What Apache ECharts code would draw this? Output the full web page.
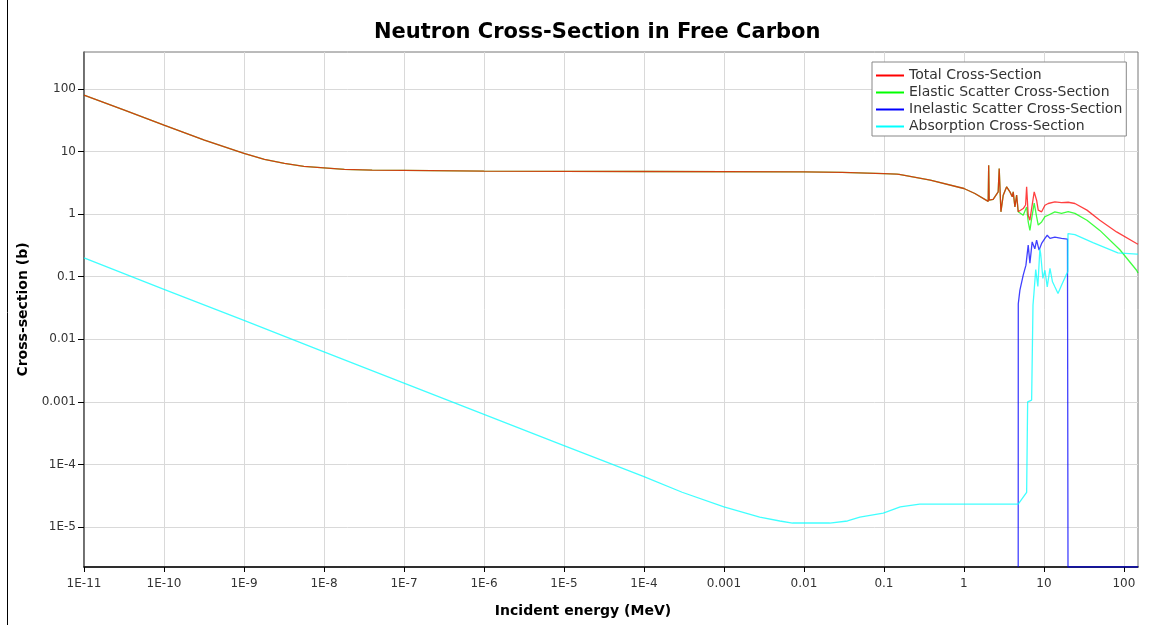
<!DOCTYPE html>
<html>
<head>
<meta charset="utf-8">
<title>Neutron Cross-Section in Free Carbon</title>
<script src="https://cdn.jsdelivr.net/npm/echarts@6/dist/echarts.min.js"></script>
<style>
  html, body { margin: 0; padding: 0; background: #fff; }
  #chart { width: 1156px; height: 625px; }
</style>
</head>
<body>
<div id="chart"></div>
<script>
// energies in MeV, cross-sections in barns
const X_MIN = 1e-11, X_MAX = 150;
const Y_MIN = 2.3e-6, Y_MAX = 390;

const xDecades = [1e-11, 1e-10, 1e-9, 1e-8, 1e-7, 1e-6, 1e-5, 1e-4, 1e-3, 0.01, 0.1, 1, 10, 100];
const yDecades = [1e-5, 1e-4, 1e-3, 0.01, 0.1, 1, 10, 100];

const seriesNames = [
  'Total Cross-Section',
  'Elastic Scatter Cross-Section',
  'Inelastic Scatter Cross-Section',
  'Absorption Cross-Section'
];
const seriesColors = ['#ff0000', '#00ff00', '#0000ff', '#00ffff'];

// below the inelastic threshold total and elastic lie on top of each other
const sharedLow = [
  [1e-11, 79.6], [3.2e-11, 46], [1e-10, 26.4], [3.2e-10, 15.2], [1e-9, 9.33],
  [1.8e-9, 7.53], [3.2e-9, 6.46], [5.6e-9, 5.82], [1e-8, 5.5], [1.8e-8, 5.2],
  [4e-8, 5.05], [1e-7, 5.0], [1e-6, 4.87], [1e-4, 4.8], [1e-2, 4.74],
  [0.03, 4.65], [0.1, 4.45], [0.145, 4.35], [0.15, 4.6], [0.155, 4.33],
  [0.38, 3.49], [1.0, 2.57], [1.37, 2.14], [2.01, 1.6], [2.04, 6.07],
  [2.07, 1.67], [2.32, 1.72], [2.68, 2.27], [2.76, 5.37], [2.9, 1.09],
  [3.1, 2.01], [3.42, 2.73], [3.76, 2.27], [4.02, 1.89], [4.13, 2.27],
  [4.34, 1.31], [4.56, 2.01], [4.77, 1.09]
];

const totalHigh = [
  [5.01, 1.16], [5.51, 1.23], [5.9, 1.4], [6.08, 2.73], [6.36, 0.96],
  [6.68, 0.8], [7.02, 1.23], [7.3, 1.3], [7.56, 2.27], [8.1, 1.67],
  [8.49, 1.16], [9.36, 1.09], [10.3, 1.39], [11.3, 1.48], [13.7, 1.57],
  [16.6, 1.53], [20.1, 1.55], [24.4, 1.48], [34.5, 1.16], [50, 0.8],
  [81, 0.52], [144, 0.34], [150, 0.33]
];

const elasticHigh = [
  [5.01, 1.09], [5.51, 0.96], [6.08, 1.3], [6.36, 0.75], [6.68, 0.55],
  [7.02, 0.85], [7.56, 1.5], [8.1, 0.91], [8.49, 0.67], [9.36, 0.75],
  [10.3, 0.91], [11.3, 0.96], [13.7, 1.09], [16.6, 1.03], [20.1, 1.1],
  [24.4, 1.03], [34.5, 0.8], [50, 0.55], [89, 0.27], [144, 0.127], [150, 0.115]
];

// 0 = no value in the library, drawn on the floor of the plot
const inelastic = [
  [4.77, 0], [4.78, 0.037], [5.01, 0.061], [5.51, 0.106], [5.96, 0.153],
  [6.36, 0.32], [6.68, 0.164], [7.13, 0.36], [7.7, 0.28], [8.1, 0.385],
  [8.7, 0.266], [9.36, 0.34], [10.3, 0.41], [11.0, 0.46], [11.9, 0.41],
  [13.7, 0.43], [16.6, 0.41], [19.7, 0.4], [20.0, 0], [150, 0]
];

const absorption = [
  [1e-11, 0.2], [1e-10, 0.063], [1e-9, 0.02], [1e-8, 0.0063], [1e-7, 0.002],
  [1e-6, 6.3e-4], [1e-5, 2.0e-4], [3e-5, 1.16e-4], [1e-4, 6.4e-5], [3e-4, 3.6e-5],
  [1e-3, 2.1e-5], [2.8e-3, 1.44e-5], [5e-3, 1.25e-5], [7.2e-3, 1.16e-5],
  [0.021, 1.16e-5], [0.035, 1.25e-5], [0.05, 1.44e-5], [0.098, 1.67e-5],
  [0.16, 2.1e-5], [0.28, 2.33e-5], [4.77, 2.33e-5], [6.08, 3.58e-5],
  [6.26, 1.0e-3], [7.02, 1.07e-3], [7.3, 0.035], [7.5, 0.054], [7.9, 0.13],
  [8.4, 0.07], [8.9, 0.28], [9.1, 0.235], [9.7, 0.094], [10.3, 0.127],
  [11.0, 0.069], [11.9, 0.136], [12.8, 0.083], [13.7, 0.069], [15.0, 0.054],
  [16.6, 0.073], [18.9, 0.106], [19.9, 0.12], [20.0, 0.49], [24.4, 0.47],
  [41, 0.35], [84, 0.24], [145, 0.23], [150, 0.23]
];

const floorZeros = pts => pts.map(([e, s]) => [e, s > 0 ? s : Y_MIN]);

const seriesData = [
  sharedLow.concat(totalHigh),
  sharedLow.concat(elasticHigh),
  floorZeros(inelastic),
  absorption
];

function decadeLabel(v) {
  const r = Math.round(Math.log10(v));
  if (r >= -3) return String(+Math.pow(10, r).toFixed(Math.max(0, -r)));
  return '1E' + r;
}

const FONT = 'DejaVu Sans';

const axisCommon = {
  type: 'log',
  logBase: 10,
  axisLine: { show: true, lineStyle: { color: '#000', width: 1.5 } },
  splitLine: { show: true, lineStyle: { color: '#d9d9d9', width: 1 } },
  minorTick: { show: false },
  nameLocation: 'middle',
  nameTextStyle: { fontFamily: FONT, fontWeight: 'bold', fontSize: 14, color: '#000' }
};

const chart = echarts.init(document.getElementById('chart'));

chart.setOption({
  animation: false,
  backgroundColor: '#fff',
  title: {
    text: 'Neutron Cross-Section in Free Carbon',
    left: 369,
    top: 17,
    textStyle: { fontFamily: FONT, fontWeight: 'bold', fontSize: 21, color: '#000' }
  },
  graphic: [{
    type: 'rect',
    silent: true,
    shape: { x: 7.5, y: -2, width: 1160, height: 640 },
    style: { fill: null, stroke: '#000', lineWidth: 1 }
  }],
  grid: {
    left: 84, right: 18, top: 52, bottom: 58,
    show: true, borderColor: '#777', borderWidth: 1
  },
  legend: {
    left: 872, top: 62,
    orient: 'vertical',
    icon: 'rect',
    itemWidth: 28, itemHeight: 2, itemGap: 2,
    padding: [6, 4, 2, 4],
    backgroundColor: '#fff',
    borderColor: '#888', borderWidth: 1,
    textStyle: { fontFamily: FONT, fontSize: 14, color: '#333', lineHeight: 15 },
    data: seriesNames
  },
  xAxis: Object.assign({}, axisCommon, {
    min: X_MIN, max: X_MAX,
    interval: 1,
    name: 'Incident energy (MeV)',
    nameGap: 37,
    nameTextStyle: Object.assign({}, axisCommon.nameTextStyle, { padding: [0, 56, 0, 0] }),
    axisTick: { show: true, length: 5, customValues: xDecades, lineStyle: { color: '#000' } },
    axisLabel: { customValues: xDecades, formatter: decadeLabel, fontFamily: FONT, fontSize: 12, color: '#333', margin: 11 }
  }),
  yAxis: Object.assign({}, axisCommon, {
    min: Y_MIN, max: Y_MAX,
    name: 'Cross-section (b)',
    nameGap: 51,
    axisLine: { show: true, lineStyle: { color: '#555', width: 1.5 } },
    axisTick: { show: true, length: 6, customValues: yDecades, lineStyle: { color: '#000' } },
    axisLabel: { customValues: yDecades, formatter: decadeLabel, fontFamily: FONT, fontSize: 12, color: '#333', margin: 8 }
  }),
  series: seriesNames.map((name, i) => ({
    name,
    type: 'line',
    data: seriesData[i],
    z: i === 0 ? 4 : 3,
    showSymbol: false,
    symbol: 'none',
    clip: true,
    color: seriesColors[i],
    lineStyle: { color: seriesColors[i], width: 1.3, opacity: 0.75 },
    emphasis: { disabled: true }
  }))
});
</script>
</body>
</html>
